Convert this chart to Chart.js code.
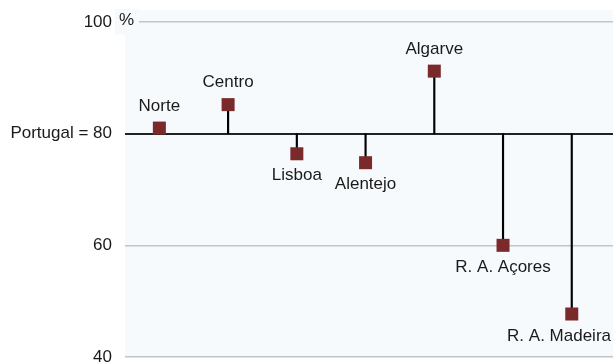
<!DOCTYPE html>
<html>
<head>
<meta charset="utf-8">
<script src="https://cdn.jsdelivr.net/npm/chart.js@4"></script>
<style>
  html, body { margin: 0; padding: 0; background: #fff; overflow: hidden; }
  canvas { display: block; }
</style>
</head>
<body>
<canvas id="chart" width="613" height="365"></canvas>
<script>
const regioes = ['Norte', 'Centro', 'Lisboa', 'Alentejo', 'Algarve', 'R. A. Açores', 'R. A. Madeira'];
const valores = [81, 85.2, 76.4, 74.8, 91.2, 60, 47.7];
const referencia = 80; // Portugal
const yMin = 40;
const yMax = 100;
const yPasso = 20;

const FONT = '"Liberation Sans", Arial, sans-serif';
const BG = '#f7fafd';

// fundo da área do gráfico + "%" junto ao 100
const fundo = {
  id: 'fundo',
  beforeDraw(chart) {
    const { ctx, chartArea } = chart;
    ctx.save();
    ctx.fillStyle = BG;
    ctx.fillRect(chartArea.left, chartArea.top - 12, chartArea.right - chartArea.left, chartArea.bottom - chartArea.top + 12);
    ctx.restore();
  },
  afterDraw(chart) {
    const { ctx } = chart;
    const y = chart.scales.y.getPixelForValue(yMax);
    ctx.save();
    ctx.fillStyle = BG;
    ctx.fillRect(115, y - 13, 24, 26);
    ctx.fillStyle = '#1a1a1a';
    ctx.font = '17px ' + FONT;
    ctx.textAlign = 'left';
    ctx.textBaseline = 'middle';
    ctx.fillText('%', 119, y - 2);
    ctx.restore();
  }
};

// nomes das regiões por cima / por baixo dos pontos
const rotulos = {
  id: 'rotulos',
  afterDatasetsDraw(chart) {
    const { ctx } = chart;
    const meta = chart.getDatasetMeta(1);
    ctx.save();
    ctx.font = '17px ' + FONT;
    ctx.fillStyle = '#1a1a1a';
    ctx.textAlign = 'center';
    ctx.textBaseline = 'middle';
    meta.data.forEach((pt, i) => {
      const w = ctx.measureText(regioes[i]).width;
      let x = pt.x;
      if (x + w / 2 > chart.width - 2) x = chart.width - 2 - w / 2;
      const y = valores[i] >= referencia ? pt.y - 22 : pt.y + 22;
      ctx.fillText(regioes[i], x, y);
    });
    ctx.restore();
  }
};

const semPadding = (s) => {
  s.paddingTop = 0;
  s.paddingBottom = 0;
  s.paddingLeft = 0;
  s.paddingRight = 0;
};

new Chart(document.getElementById('chart'), {
  type: 'bar',
  data: {
    datasets: [{
      // hastes a partir da média nacional
      data: valores.map((v, i) => ({ x: i, y: [referencia, v] })),
      backgroundColor: '#000',
      barThickness: 1.5,
      borderSkipped: false,
      order: 2
    }, {
      type: 'line',
      data: valores.map((v, i) => ({ x: i, y: v })),
      showLine: false,
      pointStyle: 'rect',
      pointRadius: 9.2,
      pointHoverRadius: 9.2,
      pointBorderWidth: 0,
      pointBackgroundColor: '#7a2a2a',
      clip: false,
      order: 1
    }]
  },
  options: {
    responsive: false,
    animation: false,
    layout: { autoPadding: false, padding: { top: 22, bottom: 8, left: 0, right: 0 } },
    plugins: {
      legend: { display: false },
      tooltip: { enabled: false }
    },
    scales: {
      x: { type: 'linear', display: false, offset: false, min: -0.5, max: regioes.length - 0.4, afterFit: semPadding },
      y: {
        min: yMin,
        max: yMax,
        afterFit: (s) => { s.width = 125; semPadding(s); },
        border: { display: false },
        grid: {
          drawTicks: false,
          color: (c) => c.tick && c.tick.value === referencia ? '#222' : '#c4c4c4',
          lineWidth: (c) => c.tick && c.tick.value === referencia ? 2 : 1.5
        },
        ticks: {
          stepSize: yPasso,
          padding: 13,
          color: '#1a1a1a',
          font: { family: FONT, size: 17 },
          callback: (v) => v === referencia ? 'Portugal = ' + v : v
        }
      }
    }
  },
  plugins: [fundo, rotulos]
});
</script>
</body>
</html>
